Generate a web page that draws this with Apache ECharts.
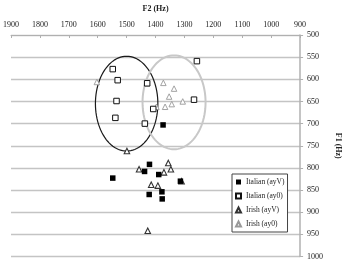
<!DOCTYPE html>
<html>
<head>
<meta charset="utf-8">
<script src="https://cdn.jsdelivr.net/npm/echarts@6/dist/echarts.min.js"></script>
<style>
html, body { margin: 0; padding: 0; background: #fff; }
#main { width: 350px; height: 261px; }
</style>
</head>
<body>
<div id="main"></div>
<script>
// each point is [F2, F1] in Hz
const italianAyV = [[1548, 823], [1421, 792], [1438, 808], [1389, 815], [1314, 830],
    [1422, 860], [1378, 854], [1377, 870], [1374, 703]];
const italianAy0 = [[1548, 577], [1531, 602], [1535, 649], [1539, 687], [1429, 609],
    [1408, 667], [1437, 700], [1257, 559], [1267, 646]];
const irishAyV = [[1499, 762], [1356, 789], [1347, 803], [1457, 803], [1371, 810],
    [1310, 830], [1415, 838], [1392, 840], [1427, 942]];
const irishAy0 = [[1603, 606], [1429, 609], [1373, 608], [1336, 621], [1353, 639],
    [1367, 662], [1344, 656], [1306, 650], [1397, 662]];
// ellipses: [centre F2, centre F1, radius F2, radius F1]
const ellipses = [[1500, 655, 108, 107], [1336, 652, 109, 106]];
const xTicks = [900, 1900, 100];
const yTicks = [500, 1000, 50];

const serif = 'Liberation Serif';
const ellipseColors = ['#1a1a1a', '#c8c8c8'];
const ellipseWidths = [1.2, 2];

function getChart() {
    let chartDom = document.getElementById('main');
    let myChart = echarts.init(chartDom);
    let option;

    option = {
        animation: false,
        textStyle: { fontFamily: serif },
        grid: { left: 7, right: 39, top: 29, bottom: 4.5 },
        legend: {
            data: ['Italian (ayV)', 'Italian (ay0)', 'Irish (ayV)', 'Irish (ay0)'],
            orient: 'vertical',
            left: 232,
            top: 174,
            itemWidth: 5,
            itemHeight: 5,
            itemGap: 6,
            padding: [4, 3, 4, 3],
            borderColor: '#444',
            borderWidth: 1,
            backgroundColor: '#fff',
            textStyle: { fontFamily: serif, fontSize: 7.5, color: '#222' }
        },
        xAxis: {
            type: 'value',
            position: 'top',
            inverse: true,
            min: xTicks[0],
            max: xTicks[1],
            interval: xTicks[2],
            name: 'F2 (Hz)',
            nameLocation: 'middle',
            nameGap: 22,
            nameTextStyle: { fontFamily: serif, fontSize: 8, fontWeight: 'bold', color: '#222' },
            axisLine: { show: true, lineStyle: { color: '#b0b0b0', width: 1 } },
            axisTick: { show: true, inside: true, length: 3, lineStyle: { color: '#b0b0b0' } },
            axisLabel: { fontFamily: serif, fontSize: 8, color: '#222', margin: 6, formatter: v => String(v) },
            splitLine: { show: false }
        },
        yAxis: {
            type: 'value',
            position: 'right',
            inverse: true,
            min: yTicks[0],
            max: yTicks[1],
            interval: yTicks[2],
            name: 'F1 (Hz)',
            nameLocation: 'middle',
            nameRotate: -90,
            nameGap: 32,
            nameTextStyle: { fontFamily: serif, fontSize: 8, fontWeight: 'bold', color: '#222' },
            axisLine: { show: true, lineStyle: { color: '#b0b0b0', width: 1.5 } },
            axisTick: { show: true, length: 3, lineStyle: { color: '#b0b0b0' } },
            axisLabel: { fontFamily: serif, fontSize: 8, color: '#222', margin: 7, formatter: v => String(v) },
            splitLine: { show: true, lineStyle: { color: '#c4c4c4', width: 1.3 } }
        },
        series: [
            {
                type: 'custom',
                name: 'ellipses',
                data: ellipses,
                z: 1,
                silent: true,
                renderItem: function (params, api) {
                    let cx = api.value(0), cy = api.value(1);
                    let rx = api.value(2), ry = api.value(3);
                    let points = [];
                    for (let k = 0; k < 96; k++) {
                        let t = k / 96 * Math.PI * 2;
                        points.push(api.coord([cx + rx * Math.cos(t), cy + ry * Math.sin(t)]));
                    }
                    return {
                        type: 'polygon',
                        shape: { points: points },
                        style: {
                            fill: 'none',
                            stroke: ellipseColors[params.dataIndex],
                            lineWidth: ellipseWidths[params.dataIndex]
                        }
                    };
                }
            },
            {
                type: 'scatter',
                name: 'Irish (ay0)',
                data: irishAy0,
                symbol: 'triangle',
                symbolSize: 5.5,
                z: 2,
                itemStyle: { color: '#fff', borderColor: '#999', borderWidth: 0.9, opacity: 1 }
            },
            {
                type: 'scatter',
                name: 'Italian (ay0)',
                data: italianAy0,
                symbol: 'rect',
                symbolSize: 5.5,
                z: 3,
                itemStyle: { color: '#fff', borderColor: '#111', borderWidth: 1, opacity: 1 }
            },
            {
                type: 'scatter',
                name: 'Irish (ayV)',
                data: irishAyV,
                symbol: 'triangle',
                symbolSize: 5.5,
                z: 4,
                itemStyle: { color: '#fff', borderColor: '#333', borderWidth: 1.1, opacity: 1 }
            },
            {
                type: 'scatter',
                name: 'Italian (ayV)',
                data: italianAyV,
                symbol: 'rect',
                symbolSize: 5.5,
                z: 5,
                itemStyle: { color: '#000', opacity: 1 }
            }
        ]
    };
    option && myChart.setOption(option);
}

window.addEventListener('load', getChart);
</script>
</body>
</html>
